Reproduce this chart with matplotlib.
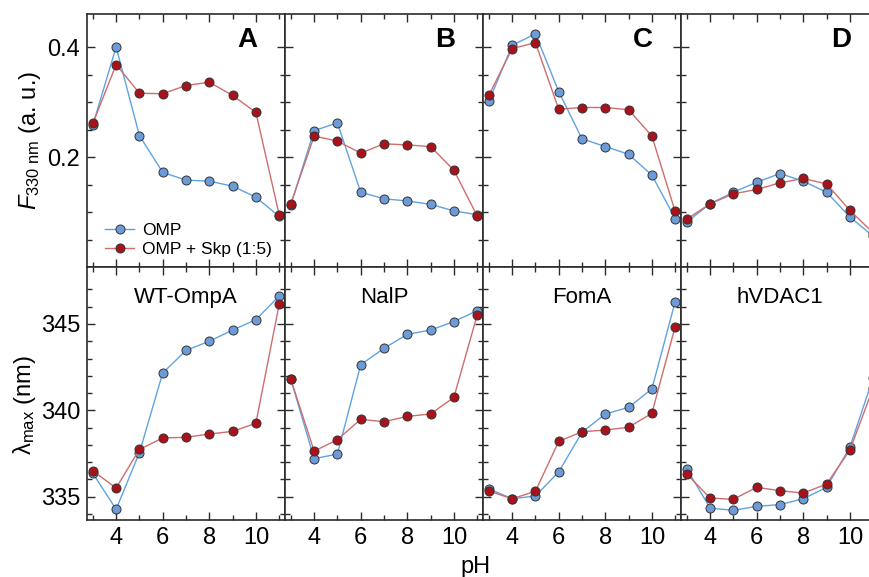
import numpy as np
import matplotlib.pyplot as plt
from matplotlib.ticker import FixedLocator

plt.rcParams['font.family'] = ['Liberation Sans', 'DejaVu Sans']
plt.rcParams['mathtext.fontset'] = 'custom'
plt.rcParams['mathtext.rm'] = 'Liberation Sans'
plt.rcParams['mathtext.it'] = 'Liberation Sans:italic'

ph = [3, 4, 5, 6, 7, 8, 9, 10, 11]
letters = ["A", "B", "C", "D"]
proteins = ["WT-OmpA", "NalP", "FomA", "hVDAC1"]

# fluorescence at 330 nm (top row)
f_omp_wt = [0.258, 0.400, 0.239, 0.172, 0.158, 0.156, 0.147, 0.127, 0.092]
f_skp_wt = [0.261, 0.368, 0.316, 0.315, 0.330, 0.336, 0.312, 0.281, 0.095]
f_omp_nalp = [0.113, 0.248, 0.262, 0.136, 0.124, 0.120, 0.114, 0.102, 0.095]
f_skp_nalp = [0.115, 0.238, 0.229, 0.207, 0.224, 0.222, 0.219, 0.176, 0.093]
f_omp_foma = [0.301, 0.403, 0.424, 0.319, 0.233, 0.219, 0.205, 0.167, 0.088]
f_skp_foma = [0.312, 0.397, 0.408, 0.287, 0.290, 0.290, 0.286, 0.238, 0.101]
f_omp_vdac = [0.082, 0.115, 0.136, 0.154, 0.170, 0.156, 0.136, 0.091, 0.056]
f_skp_vdac = [0.087, 0.115, 0.133, 0.141, 0.153, 0.161, 0.151, 0.103, 0.062]

# emission maximum (bottom row)
l_omp_wt = [336.35, 334.27, 337.55, 342.16, 343.47, 344.0, 344.65, 345.25, 346.62]
l_skp_wt = [336.5, 335.5, 337.74, 338.4, 338.44, 338.63, 338.78, 339.25, 346.14]
l_omp_nalp = [341.8, 337.2, 337.47, 342.64, 343.59, 344.4, 344.65, 345.14, 345.77]
l_skp_nalp = [341.8, 337.64, 338.3, 339.48, 339.34, 339.65, 339.79, 340.75, 345.52]
l_omp_foma = [335.46, 334.88, 335.04, 336.43, 338.73, 339.79, 340.17, 341.24, 346.29]
l_skp_foma = [335.33, 334.88, 335.31, 338.2, 338.76, 338.86, 339.02, 339.83, 344.85]
l_omp_vdac = [336.6, 334.34, 334.21, 334.44, 334.54, 334.88, 335.54, 337.86, 341.9]
l_skp_vdac = [336.31, 334.92, 334.85, 335.54, 335.35, 335.21, 335.73, 337.7, 341.3]

top_omp = [f_omp_wt, f_omp_nalp, f_omp_foma, f_omp_vdac]
top_skp = [f_skp_wt, f_skp_nalp, f_skp_foma, f_skp_vdac]
bot_omp = [l_omp_wt, l_omp_nalp, l_omp_foma, l_omp_vdac]
bot_skp = [l_skp_wt, l_skp_nalp, l_skp_foma, l_skp_vdac]

W, H = 869, 577
fig = plt.figure(figsize=(W / 100, H / 100), dpi=100)

blue_fill, blue_line = "#6d9bd8", "#5fa3e3"
red_fill, red_line = "#a9121b", "#cf6d6d"
edge = "#333333"


def style(ax):
    for s in ax.spines.values():
        s.set_color("#2b2b2b")
        s.set_linewidth(1.2)
    ax.tick_params(which="both", direction="in", top=True, right=True,
                   color="#2b2b2b", width=1.0, labelsize=17, pad=5)
    ax.tick_params(which="major", length=6)
    ax.tick_params(which="minor", length=3.5)
    ax.set_xlim(2.75, 11.25)
    ax.xaxis.set_major_locator(FixedLocator([4, 6, 8, 10]))
    ax.xaxis.set_minor_locator(FixedLocator([3, 5, 7, 9, 11]))


def draw(ax, omp, skp, legend=False):
    ax.plot(ph, omp, "-o", color=blue_line, mfc=blue_fill, mec=edge,
            mew=0.7, ms=6.5, lw=1.0, label="OMP", clip_on=False)
    ax.plot(ph, skp, "-o", color=red_line, mfc=red_fill, mec=edge,
            mew=0.7, ms=6.5, lw=1.0, label="OMP + Skp (1:5)", clip_on=False)


for i in range(4):
    left = (87 + i * 198) / W
    ax = fig.add_axes([left, 310 / H, 198 / W, 253 / H])
    style(ax)
    draw(ax, top_omp[i], top_skp[i])
    ax.set_ylim(0.0, 0.46)
    ax.yaxis.set_major_locator(FixedLocator([0.2, 0.4]))
    ax.yaxis.set_minor_locator(FixedLocator([0.05, 0.1, 0.15, 0.25, 0.3, 0.35]))
    ax.tick_params(labelbottom=False, labelleft=(i == 0))
    if i == 0:
        ax.set_yticklabels(["0.2", "0.4"])
        ax.legend(loc="lower left", bbox_to_anchor=(0.09, 0.04), frameon=False,
                  fontsize=12.5, handlelength=1.7, handletextpad=0.45,
                  labelspacing=0.2, borderpad=0, borderaxespad=0)
    ax.text(0.86, 0.95, letters[i], transform=ax.transAxes, ha="right",
            va="top", fontsize=20, fontweight="bold")

    ax2 = fig.add_axes([left, 57 / H, 198 / W, 253 / H])
    style(ax2)
    draw(ax2, bot_omp[i], bot_skp[i])
    ax2.set_ylim(333.65, 348.3)
    ax2.yaxis.set_major_locator(FixedLocator([335, 340, 345]))
    ax2.yaxis.set_minor_locator(FixedLocator([334, 336, 337, 338, 339, 341, 342,
                                              343, 344, 346, 347]))
    ax2.tick_params(labelleft=(i == 0))
    ax2.text(0.5, 0.92, proteins[i], transform=ax2.transAxes, ha="center",
             va="top", fontsize=16)

fig.text(30 / W, 1 - 140 / H, r"$F_{\mathregular{330\ nm}}$ (a. u.)",
         rotation=90, ha="center", va="center", fontsize=17)
fig.text(24 / W, 1 - 405 / H, r"λ$_{\mathregular{max}}$ (nm)",
         rotation=90, ha="center", va="center", fontsize=17)
fig.text(476 / W, 1 - 567 / H, "pH", ha="center", va="center", fontsize=17)

plt.savefig("out.png", dpi=100)
